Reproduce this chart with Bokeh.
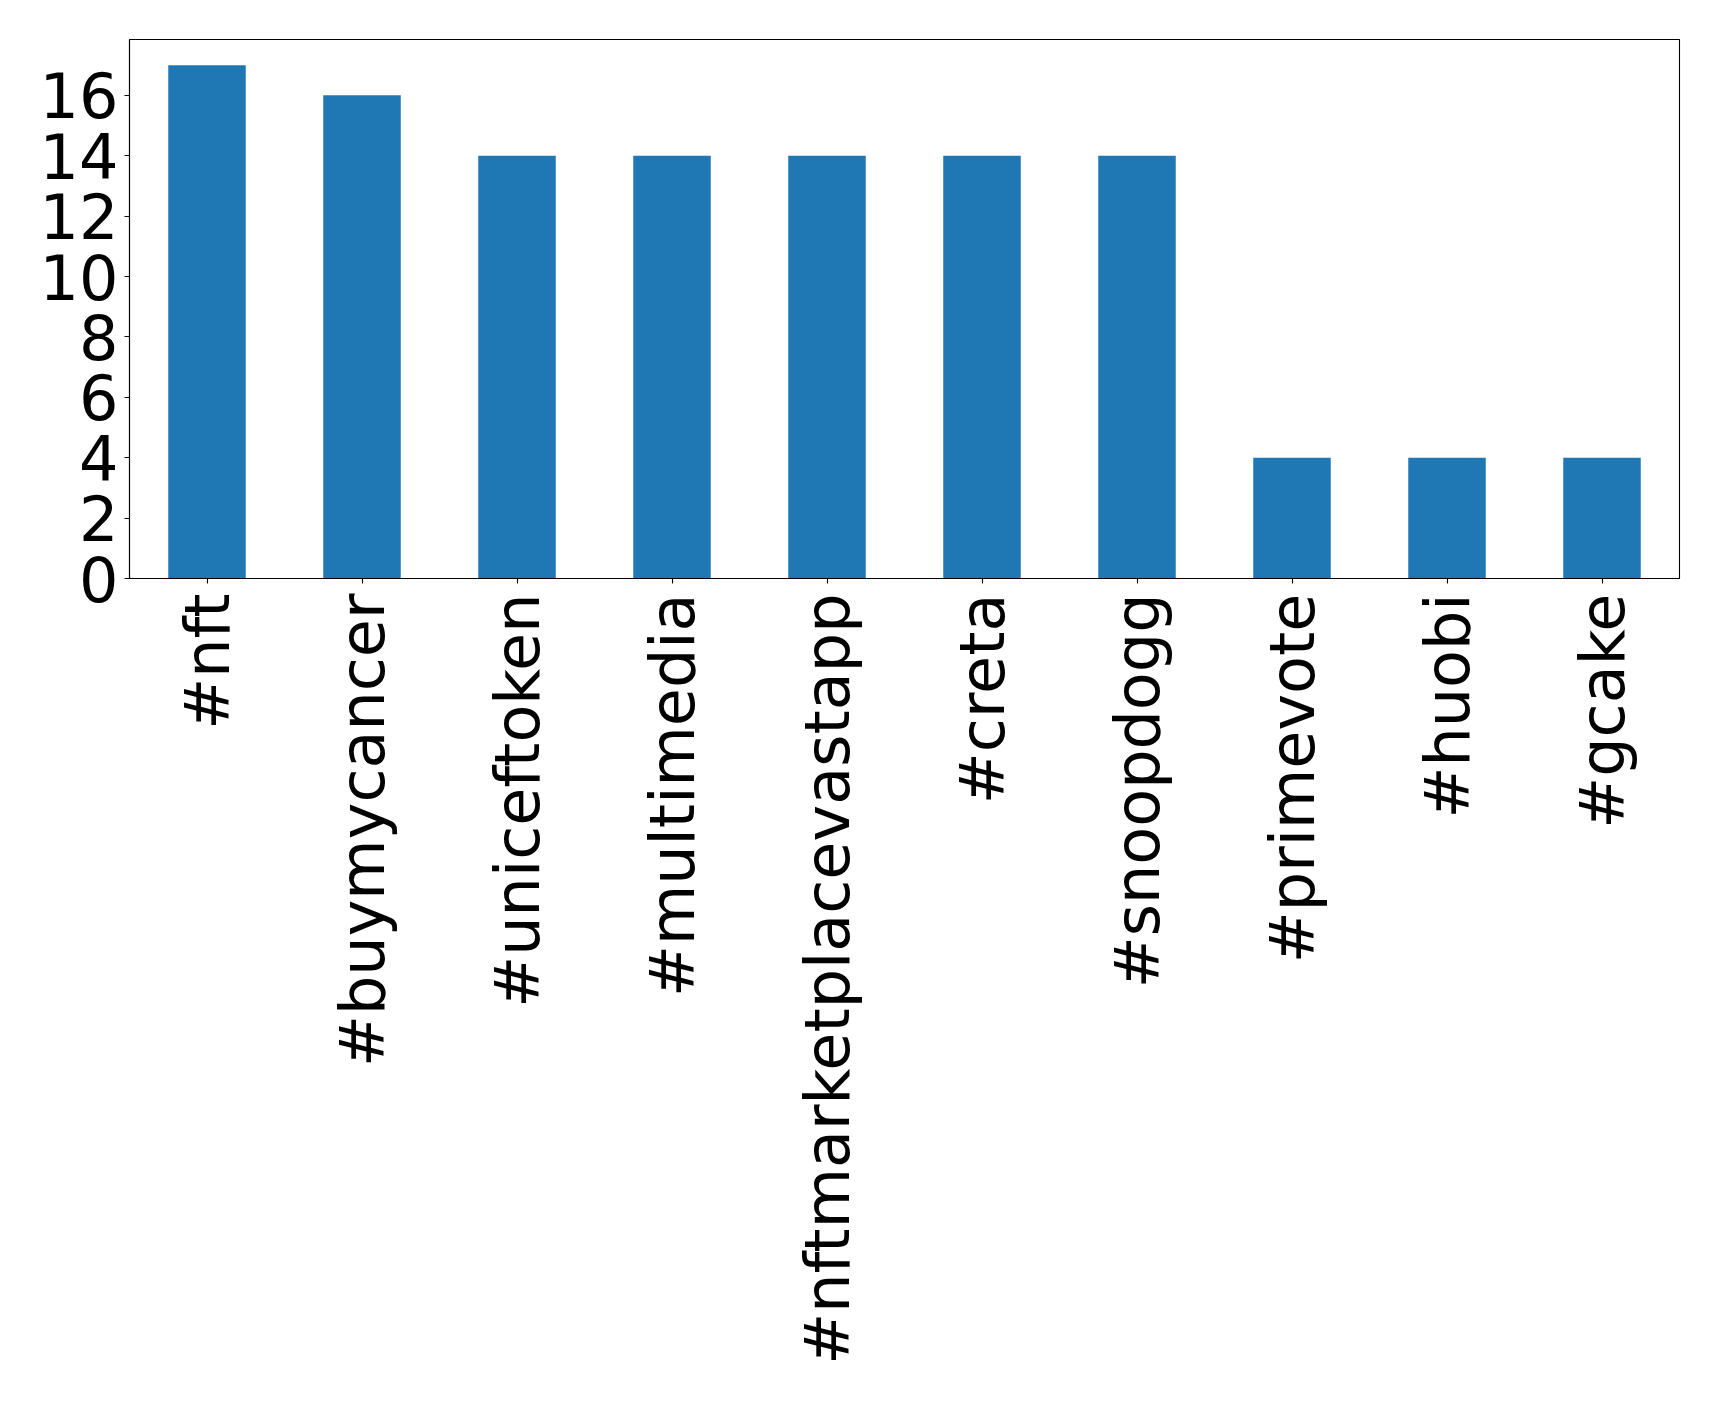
import math
from bokeh.plotting import figure
from bokeh.models import Range1d, FixedTicker, ColumnDataSource
from bokeh.embed import file_html
from bokeh.resources import INLINE

categories = ["#nft", "#buymycancer", "#uniceftoken", "#multimedia",
              "#nftmarketplacevastapp", "#creta", "#snoopdogg",
              "#primevote", "#huobi", "#gcake"]
counts = [17, 16, 14, 14, 14, 14, 14, 4, 4, 4]
y_ticks = [0, 2, 4, 6, 8, 10, 12, 14, 16]

source = ColumnDataSource(data=dict(cat=categories, count=counts))

p = figure(x_range=categories, y_range=Range1d(0, 17.85),
           frame_width=1550, frame_height=539,
           min_border_left=129, min_border_top=39, min_border_right=22,
           min_border_bottom=800,
           output_backend="svg", toolbar_location=None,
           background_fill_color="white", border_fill_color="white")
p.x_range.range_padding = 0

p.vbar(x="cat", top="count", width=0.5, source=source,
       fill_color="#1f77b4", line_color=None)

p.xgrid.visible = False
p.ygrid.visible = False
p.outline_line_color = "black"
p.outline_line_width = 1.1

for ax in (p.xaxis, p.yaxis):
    ax.axis_line_color = "black"
    ax.axis_line_width = 1.1
    ax.major_tick_line_color = "black"
    ax.major_tick_line_width = 1.1
    ax.major_tick_out = 5
    ax.major_tick_in = 0
    ax.minor_tick_line_color = None
    ax.major_label_text_font = "DejaVu Sans"
    ax.major_label_text_font_size = "62px"
    ax.major_label_text_color = "black"
    ax.major_label_standoff = 6

p.yaxis.ticker = FixedTicker(ticks=y_ticks)
p.xaxis.major_label_orientation = math.pi / 2
p.xaxis.major_label_standoff = 10

open("out.html", "w").write(file_html(p, INLINE))
